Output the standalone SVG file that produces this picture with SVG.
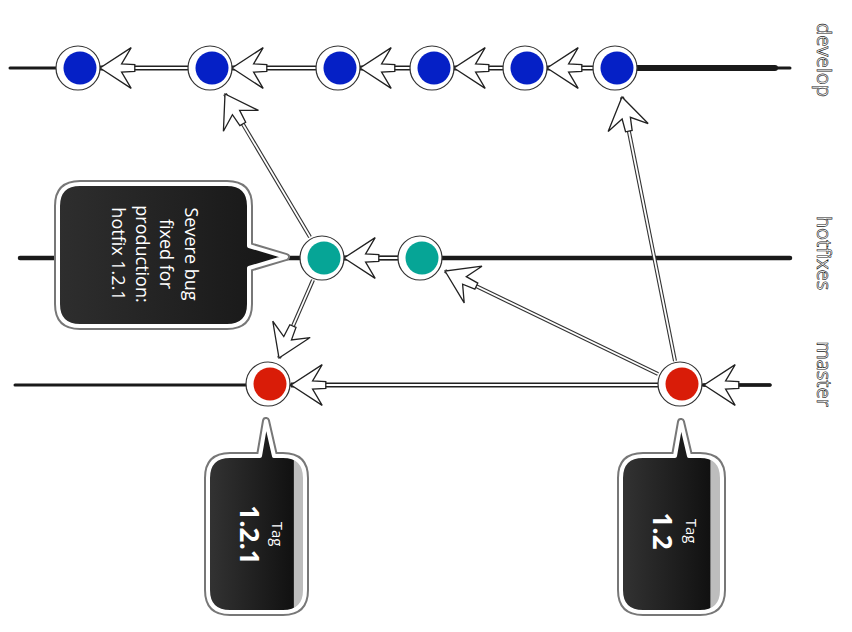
<svg xmlns="http://www.w3.org/2000/svg" width="852" height="632" viewBox="0 0 852 632">
<style>
.branch{stroke:#1a1a1a;stroke-linecap:round;fill:none}
.shaft-o{stroke:#222;stroke-width:5;fill:none}
.shaft-i{stroke:#fff;stroke-width:1.8;fill:none}
.dshaft-o{stroke:#333;stroke-width:4;fill:none}
.dshaft-i{stroke:#fff;stroke-width:1.8;fill:none}
.ring{fill:#fff;stroke:#333;stroke-width:1.2}
.blue{fill:#0520c6}
.teal{fill:#06a596}
.red{fill:#d91c08}
.label{font-family:"Open Sans","Noto Sans",sans-serif;font-weight:400;font-size:20px;fill:#fff;stroke:#222;stroke-width:0.6}
.btxt{font-family:"Open Sans","Noto Sans",sans-serif;font-size:18px;fill:#fff;text-anchor:middle}
.tagsm{font-family:"Open Sans","Noto Sans",sans-serif;font-size:15px;fill:#fff;text-anchor:middle}
.tagbig{font-family:"Open Sans","Noto Sans",sans-serif;font-size:26px;font-weight:bold;fill:#fff;text-anchor:middle}
.bout{fill:none;stroke:#777;stroke-width:8;stroke-linejoin:round}
.bin{stroke:#fff;stroke-width:4;stroke-linejoin:round}
</style>
<defs>
<marker id="ah" markerUnits="userSpaceOnUse" orient="auto" refX="26" refY="0" markerWidth="48" markerHeight="48" viewBox="-5 -20 40 40" overflow="visible">
<path d="M26,0 L0,-17 L8,-3.5 L-3,-2.8 L-3,2.8 L8,3.5 L0,17 Z" fill="#fff" stroke="#222" stroke-width="1.1" stroke-linejoin="miter"/>
</marker>
<linearGradient id="gb" x1="0" y1="0" x2="1" y2="0">
<stop offset="0" stop-color="#2e2e2e"/>
<stop offset="1" stop-color="#161616"/>
</linearGradient>
<linearGradient id="gt" x1="0" y1="0" x2="1" y2="0">
<stop offset="0" stop-color="#333"/>
<stop offset="0.88" stop-color="#111"/>
<stop offset="0.89" stop-color="#bdbdbd"/>
<stop offset="1" stop-color="#bdbdbd"/>
</linearGradient>
</defs>

<g id="branches">
<line class="branch" x1="10" y1="68" x2="790" y2="68" stroke-width="3"/>
<line class="branch" x1="615" y1="68" x2="775" y2="68" stroke-width="6"/>
<line class="branch" x1="20" y1="258" x2="790" y2="258" stroke-width="4.5"/>
<line class="branch" x1="15" y1="385" x2="770" y2="385" stroke-width="3"/>
</g>

<g id="connectors">
<line class="shaft-o" x1="593" y1="68" x2="547" y2="68"/><line class="shaft-i" x1="593" y1="68" x2="547" y2="68" marker-end="url(#ah)"/>
<line class="shaft-o" x1="503" y1="68" x2="454" y2="68"/><line class="shaft-i" x1="503" y1="68" x2="454" y2="68" marker-end="url(#ah)"/>
<line class="shaft-o" x1="410" y1="68" x2="360" y2="68"/><line class="shaft-i" x1="410" y1="68" x2="360" y2="68" marker-end="url(#ah)"/>
<line class="shaft-o" x1="316" y1="68" x2="232" y2="68"/><line class="shaft-i" x1="316" y1="68" x2="232" y2="68" marker-end="url(#ah)"/>
<line class="shaft-o" x1="188" y1="68" x2="100" y2="68"/><line class="shaft-i" x1="188" y1="68" x2="100" y2="68" marker-end="url(#ah)"/>
<line class="shaft-o" x1="398" y1="258" x2="344" y2="258"/><line class="shaft-i" x1="398" y1="258" x2="344" y2="258" marker-end="url(#ah)"/>
<line class="shaft-o" x1="658" y1="385" x2="291" y2="385"/><line class="shaft-i" x1="658" y1="385" x2="291" y2="385" marker-end="url(#ah)"/>
<line class="branch" x1="770" y1="385" x2="704" y2="385" stroke-width="3.5" marker-end="url(#ah)"/>
<line class="dshaft-o" x1="310" y1="237" x2="225" y2="94"/><line class="dshaft-i" x1="310" y1="237" x2="225" y2="94" marker-end="url(#ah)"/>
<line class="dshaft-o" x1="313" y1="280" x2="279" y2="358"/><line class="dshaft-i" x1="313" y1="280" x2="279" y2="358" marker-end="url(#ah)"/>
<line class="dshaft-o" x1="658" y1="374" x2="445" y2="271"/><line class="dshaft-i" x1="658" y1="374" x2="445" y2="271" marker-end="url(#ah)"/>
<line class="dshaft-o" x1="675" y1="361" x2="622" y2="97"/><line class="dshaft-i" x1="675" y1="361" x2="622" y2="97" marker-end="url(#ah)"/>
</g>

<g id="d1"><circle class="ring" cx="78" cy="68" r="22"/><circle class="blue" cx="80" cy="68" r="16.5"/></g>
<g id="d2"><circle class="ring" cx="210" cy="68" r="22"/><circle class="blue" cx="212" cy="68" r="16.5"/></g>
<g id="d3"><circle class="ring" cx="338" cy="68" r="22"/><circle class="blue" cx="340" cy="68" r="16.5"/></g>
<g id="d4"><circle class="ring" cx="432" cy="68" r="22"/><circle class="blue" cx="434" cy="68" r="16.5"/></g>
<g id="d5"><circle class="ring" cx="525" cy="68" r="22"/><circle class="blue" cx="527" cy="68" r="16.5"/></g>
<g id="d6"><circle class="ring" cx="615" cy="68" r="22"/><circle class="blue" cx="617" cy="68" r="16.5"/></g>
<g id="h1"><circle class="ring" cx="322" cy="258" r="22"/><circle class="teal" cx="324" cy="258" r="16.5"/></g>
<g id="h2"><circle class="ring" cx="420" cy="258" r="22"/><circle class="teal" cx="422" cy="258" r="16.5"/></g>
<g id="m1"><circle class="ring" cx="268" cy="384" r="22"/><circle class="red" cx="270" cy="384" r="16.5"/></g>
<g id="m2"><circle class="ring" cx="680" cy="384" r="22"/><circle class="red" cx="682" cy="384" r="16.5"/></g>

<g id="note-hotfix">
<path class="bout" d="M80,184 H227 Q249,184 249,206 V246 L286,257 L249,268 V304 Q249,326 227,326 H80 Q58,326 58,304 V206 Q58,184 80,184 Z"/>
<path class="bin" fill="url(#gb)" d="M80,184 H227 Q249,184 249,206 V246 L286,257 L249,268 V304 Q249,326 227,326 H80 Q58,326 58,304 V206 Q58,184 80,184 Z"/>
<text class="btxt" transform="translate(185,254) rotate(90)">Severe bug</text>
<text class="btxt" transform="translate(160,254) rotate(90)">fixed for</text>
<text class="btxt" transform="translate(136,254) rotate(90)">production:</text>
<text class="btxt" transform="translate(112,254) rotate(90)">hotfix 1.2.1</text>
</g>

<g id="tag-121">
<path class="bout" d="M230,456 H260 L266,421 L274,456 H283 Q305,456 305,478 V590 Q305,612 283,612 H230 Q208,612 208,590 V478 Q208,456 230,456 Z"/>
<path class="bin" fill="url(#gt)" d="M230,456 H260 L266,421 L274,456 H283 Q305,456 305,478 V590 Q305,612 283,612 H230 Q208,612 208,590 V478 Q208,456 230,456 Z"/>
<text class="tagsm" transform="translate(272,534) rotate(90)">Tag</text>
<text class="tagbig" transform="translate(240,535) rotate(90)">1.2.1</text>
</g>

<g id="tag-12">
<path class="bout" d="M643,456 H675 L681,422 L689,456 H700 Q722,456 722,478 V590 Q722,612 700,612 H643 Q621,612 621,590 V478 Q621,456 643,456 Z"/>
<path class="bin" fill="url(#gt)" d="M643,456 H675 L681,422 L689,456 H700 Q722,456 722,478 V590 Q722,612 700,612 H643 Q621,612 621,590 V478 Q621,456 643,456 Z"/>
<text class="tagsm" transform="translate(686,531) rotate(90)">Tag</text>
<text class="tagbig" transform="translate(653,531) rotate(90)">1.2</text>
</g>

<g id="labels">
<text class="label" transform="translate(817,60) rotate(90)" text-anchor="middle">develop</text>
<text class="label" transform="translate(817,253) rotate(90)" text-anchor="middle">hotfixes</text>
<text class="label" transform="translate(817,374) rotate(90)" text-anchor="middle">master</text>
</g>
</svg>
